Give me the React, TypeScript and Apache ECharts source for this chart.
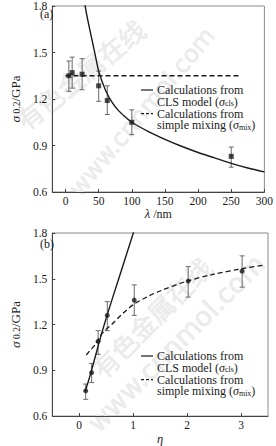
import React, { useEffect, useRef } from 'react';
import * as echarts from 'echarts';

// ---- Panel (a): strength vs lambda ----
const lambdaA = [5, 10, 25, 50, 63, 100, 250];
const sigmaA = [1.35, 1.37, 1.36, 1.285, 1.19, 1.05, 0.83];
const errLowA = [1.25, 1.27, 1.26, 1.185, 1.10, 0.97, 0.76];
const errHighA = [1.445, 1.47, 1.46, 1.38, 1.285, 1.13, 0.89];

const clsLambda = [28, 30, 35, 40, 45, 50, 60, 70, 80, 90, 100, 125, 150, 175, 200, 225, 250, 275, 300];
const clsSigmaA = [1.85, 1.79, 1.68, 1.58, 1.48, 1.38, 1.26, 1.18, 1.125, 1.085, 1.05, 0.99, 0.94, 0.895, 0.855, 0.82, 0.785, 0.755, 0.73];

const mixLambda = [0, 262];
const mixSigmaA = [1.35, 1.35];

// ---- Panel (b): strength vs eta ----
const etaB = [0.12, 0.23, 0.35, 0.52, 1.02, 2.02, 3.02];
const sigmaB = [0.765, 0.885, 1.09, 1.26, 1.36, 1.485, 1.55];
const errLowB = [0.71, 0.82, 1.005, 1.16, 1.26, 1.38, 1.445];
const errHighB = [0.81, 0.945, 1.16, 1.35, 1.46, 1.58, 1.65];

const clsEta = [0.11, 0.22, 0.37, 0.52, 0.75, 1.03];
const clsSigmaB = [0.76, 0.89, 1.085, 1.265, 1.52, 1.83];

const mixEta = [0.13, 0.2, 0.3, 0.4, 0.5, 0.6, 0.8, 1.0, 1.25, 1.5, 2.0, 2.5, 3.0, 3.42];
const mixSigmaB = [1.0, 1.03, 1.07, 1.13, 1.17, 1.2, 1.27, 1.33, 1.38, 1.42, 1.485, 1.53, 1.565, 1.59];

// ---- Tick labels ----
const xTicksA = [0, 50, 100, 150, 200, 250, 300];
const xTicksB = [0, 1, 2, 3];
const yTicks = [0.6, 0.9, 1.2, 1.5, 1.8];

const legendLines = ['Calculations from', 'CLS model ({i|σ}{s|cls})', 'Calculations from', 'simple mixing ({i|σ}{s|mix})'];

const SERIF = '"Liberation Serif", "DejaVu Serif", serif';
const INK = '#1a1a1a';
const LH = 11.8;

function zip(a: number[], b: number[]) {
  return a.map((v, i) => [v, b[i]]);
}

function errorSeries(xIdx: number, xs: number[], lo: number[], hi: number[]) {
  return {
    type: 'custom',
    xAxisIndex: xIdx,
    yAxisIndex: xIdx,
    data: xs.map((x, i) => [x, lo[i], hi[i]]),
    encode: { x: 0, y: [1, 2] },
    z: 3,
    renderItem: (params: any, api: any) => {
      const a = api.coord([api.value(0), api.value(1)]);
      const b = api.coord([api.value(0), api.value(2)]);
      const w = 2.5;
      const st = { stroke: '#6a6a6a', lineWidth: 1 };
      return {
        type: 'group',
        children: [
          { type: 'line', shape: { x1: a[0], y1: a[1], x2: b[0], y2: b[1] }, style: st },
          { type: 'line', shape: { x1: a[0] - w, y1: a[1], x2: a[0] + w, y2: a[1] }, style: st },
          { type: 'line', shape: { x1: b[0] - w, y1: b[1], x2: b[0] + w, y2: b[1] }, style: st },
        ],
      };
    },
  };
}

function xAxis(gridIndex: number, min: number, max: number, ticks: number[], name: string) {
  return {
    type: 'value',
    gridIndex,
    min,
    max,
    axisLine: { onZero: false, lineStyle: { color: '#444', width: 1 } },
    axisTick: { inside: true, length: 3, customValues: ticks, lineStyle: { color: '#444' } },
    axisLabel: { customValues: ticks, fontFamily: SERIF, fontSize: 11.5, color: INK, margin: 3 },
    splitLine: { show: false },
    name,
    nameLocation: 'middle',
    nameGap: 12,
    nameTextStyle: {
      fontFamily: SERIF,
      fontSize: 12,
      color: INK,
      rich: { i: { fontFamily: SERIF, fontStyle: 'italic', fontSize: 12.5, color: INK } },
    },
  };
}

function yAxis(gridIndex: number) {
  return {
    type: 'value',
    gridIndex,
    min: 0.6,
    max: 1.8,
    axisLine: { onZero: false, lineStyle: { color: '#444', width: 1 } },
    axisTick: { inside: true, length: 3, customValues: yTicks, lineStyle: { color: '#444' } },
    axisLabel: {
      customValues: yTicks,
      formatter: (v: number) => v.toFixed(1),
      fontFamily: SERIF,
      fontSize: 11.5,
      color: INK,
      margin: 5,
    },
    splitLine: { show: false },
    name: '{i|σ}{s| 0.2}{n|/GPa}',
    nameLocation: 'middle',
    nameGap: 20,
    nameRotate: 90,
    nameTextStyle: {
      fontFamily: SERIF,
      fontSize: 13,
      color: INK,
      rich: {
        i: { fontFamily: SERIF, fontStyle: 'italic', fontSize: 13.5, color: INK, lineHeight: 14, verticalAlign: 'bottom' },
        s: { fontFamily: SERIF, fontSize: 9.5, color: INK, lineHeight: 8, verticalAlign: 'bottom' },
        n: { fontFamily: SERIF, fontSize: 13, color: INK, lineHeight: 14, verticalAlign: 'bottom' },
      },
    },
  };
}

function legendGraphics(x0: number, y0: number) {
  const rich = {
    i: { fontFamily: SERIF, fontStyle: 'italic', fontSize: 12, fill: INK, lineHeight: LH, verticalAlign: 'bottom' },
    s: { fontFamily: SERIF, fontSize: 8, fill: INK, lineHeight: 6, verticalAlign: 'bottom' },
  };
  return [
    {
      type: 'text',
      left: x0 + 16,
      top: y0 - LH / 2,
      z: 10,
      style: { text: legendLines.join('\n'), rich, font: `12px ${SERIF}`, fill: INK, lineHeight: LH },
    },
    {
      type: 'line',
      z: 10,
      shape: { x1: x0, y1: y0, x2: x0 + 12, y2: y0 },
      style: { stroke: INK, lineWidth: 1.2 },
    },
    {
      type: 'line',
      z: 10,
      shape: { x1: x0, y1: y0 + 2 * LH, x2: x0 + 12, y2: y0 + 2 * LH },
      style: { stroke: INK, lineWidth: 1.2, lineDash: [3, 2] },
    },
  ];
}

function watermark(x: number, y: number, text: string, size: number, deg: number, family: string) {
  return {
    type: 'text',
    x,
    y,
    rotation: (deg * Math.PI) / 180,
    z: 0,
    silent: true,
    style: {
      text,
      font: `${size}px ${family}`,
      fill: '#ebebeb',
      stroke: '#dddddd',
      lineWidth: 0.4,
      align: 'center',
      verticalAlign: 'middle',
    },
  };
}

export default function App() {
  const ref = useRef<HTMLDivElement>(null);
  useEffect(() => {
    const chart = echarts.init(ref.current!, null, { renderer: 'svg' });
    const option: any = {
      animation: false,
      backgroundColor: '#ffffff',
      grid: [
        { left: 36, top: 2, width: 231, height: 190, show: true, borderColor: '#8a8a8a', borderWidth: 1, backgroundColor: 'transparent' },
        { left: 35, top: 233, width: 233, height: 187, show: true, borderColor: '#8a8a8a', borderWidth: 1, backgroundColor: 'transparent' },
      ],
      xAxis: [
        xAxis(0, -20, 300, xTicksA, '{i|λ} /nm'),
        xAxis(1, -0.5, 3.5, xTicksB, '{i|η}'),
      ],
      yAxis: [yAxis(0), yAxis(1)],
      graphic: [
        watermark(80, 74, '有色金属在线', 26, 39, '"Noto Sans CJK SC", sans-serif'),
        watermark(142, 112, 'www.cnnmol.com', 24, 50, '"DejaVu Sans", sans-serif'),
        watermark(151, 317, '有色金属在线', 26, 45, '"Noto Sans CJK SC", sans-serif'),
        watermark(176, 343, 'www.cnnmol.com', 27, 45, '"DejaVu Sans", sans-serif'),
        { type: 'text', left: 40, top: 8, z: 10, style: { text: '(a)', font: `12px ${SERIF}`, fill: INK } },
        { type: 'text', left: 40, top: 238, z: 10, style: { text: '(b)', font: `12px ${SERIF}`, fill: INK } },
        ...legendGraphics(141, 90),
        ...legendGraphics(141, 356),
      ],
      series: [
        {
          type: 'line',
          xAxisIndex: 0,
          yAxisIndex: 0,
          data: zip(clsLambda, clsSigmaA),
          smooth: 0.3,
          showSymbol: false,
          lineStyle: { color: INK, width: 1.4 },
          clip: true,
          z: 4,
        },
        {
          type: 'line',
          xAxisIndex: 0,
          yAxisIndex: 0,
          data: zip(mixLambda, mixSigmaA),
          showSymbol: false,
          lineStyle: { color: INK, width: 1.3, type: [5, 3] },
          z: 4,
        },
        errorSeries(0, lambdaA, errLowA, errHighA),
        {
          type: 'scatter',
          xAxisIndex: 0,
          yAxisIndex: 0,
          data: zip(lambdaA, sigmaA),
          symbol: 'rect',
          symbolSize: 5,
          itemStyle: { color: INK },
          z: 5,
        },
        {
          type: 'line',
          xAxisIndex: 1,
          yAxisIndex: 1,
          data: zip(clsEta, clsSigmaB),
          smooth: 0.3,
          showSymbol: false,
          lineStyle: { color: INK, width: 1.4 },
          clip: true,
          z: 4,
        },
        {
          type: 'line',
          xAxisIndex: 1,
          yAxisIndex: 1,
          data: zip(mixEta, mixSigmaB),
          smooth: 0.3,
          showSymbol: false,
          lineStyle: { color: INK, width: 1.3, type: [5, 3] },
          z: 4,
        },
        errorSeries(1, etaB, errLowB, errHighB),
        {
          type: 'scatter',
          xAxisIndex: 1,
          yAxisIndex: 1,
          data: zip(etaB, sigmaB),
          symbol: 'circle',
          symbolSize: 5,
          itemStyle: { color: INK },
          z: 5,
        },
      ],
    };
    chart.setOption(option);
    return () => chart.dispose();
  }, []);
  return <div ref={ref} style={{ position: 'fixed', left: 0, top: 0, width: 276, height: 446 }} />;
}
